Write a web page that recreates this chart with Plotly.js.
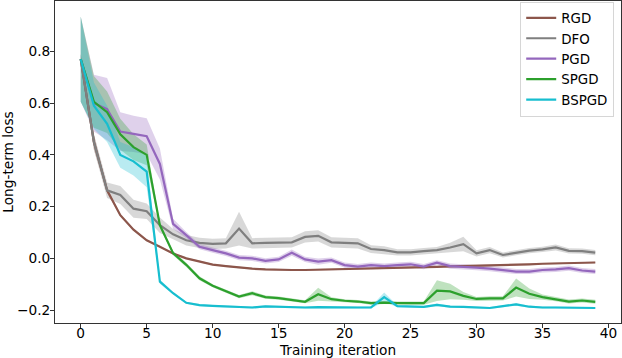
<!DOCTYPE html>
<html>
<head>
<meta charset="utf-8">
<script src="https://cdn.plot.ly/plotly-3.0.1.min.js"></script>
<style>html,body{margin:0;padding:0;background:#fff}#chart{width:622px;height:358px}</style>
</head>
<body>
<div id="chart"></div>
<script>
const iterations = Array.from({length: 40}, (_, i) => i);

const seriesNames = ["RGD", "DFO", "PGD", "SPGD", "BSPGD"];
const seriesColors = ["#8c564b", "#7f7f7f", "#9467bd", "#2ca02c", "#17becf"];
const bandColors = ["rgba(140,86,75,0.3)", "rgba(127,127,127,0.3)", "rgba(148,103,189,0.3)", "rgba(44,160,44,0.3)", "rgba(23,190,207,0.3)"];

const rgdMean = [0.77, 0.45, 0.263, 0.167, 0.111, 0.07, 0.045, 0.019, 0.0, -0.013,
  -0.024, -0.03, -0.036, -0.04, -0.043, -0.045, -0.045, -0.045, -0.044, -0.043,
  -0.042, -0.041, -0.039, -0.038, -0.037, -0.035, -0.034, -0.033, -0.031, -0.03,
  -0.028, -0.027, -0.026, -0.024, -0.023, -0.021, -0.02, -0.018, -0.017, -0.016];
const rgdStd = [0.02, 0.03, 0.01, 0.005, 0.004, 0.003, 0.003, 0.003, 0.003, 0.003,
  0.003, 0.003, 0.003, 0.003, 0.003, 0.003, 0.003, 0.003, 0.003, 0.003,
  0.003, 0.003, 0.003, 0.003, 0.003, 0.003, 0.003, 0.003, 0.003, 0.003,
  0.003, 0.003, 0.003, 0.003, 0.003, 0.003, 0.003, 0.003, 0.003, 0.003];

const dfoMean = [0.77, 0.45, 0.263, 0.245, 0.192, 0.182, 0.128, 0.093, 0.07, 0.06,
  0.056, 0.058, 0.115, 0.058, 0.06, 0.061, 0.062, 0.083, 0.087, 0.062,
  0.061, 0.058, 0.036, 0.032, 0.023, 0.023, 0.028, 0.032, 0.042, 0.055,
  0.019, 0.032, 0.013, 0.022, 0.03, 0.035, 0.042, 0.029, 0.028, 0.022];
const dfoStd = [0.02, 0.03, 0.03, 0.035, 0.035, 0.03, 0.03, 0.02, 0.02, 0.02,
  0.02, 0.02, 0.065, 0.02, 0.02, 0.02, 0.02, 0.022, 0.022, 0.02,
  0.02, 0.02, 0.015, 0.015, 0.012, 0.012, 0.012, 0.012, 0.018, 0.028,
  0.012, 0.012, 0.01, 0.01, 0.01, 0.01, 0.012, 0.01, 0.01, 0.01];

const pgdMean = [0.77, 0.60, 0.577, 0.49, 0.481, 0.472, 0.365, 0.133, 0.09, 0.045,
  0.032, 0.019, 0.003, 0.0, -0.01, -0.004, 0.022, -0.004, -0.013, -0.007,
  -0.026, -0.032, -0.026, -0.03, -0.026, -0.023, -0.032, -0.017, -0.03, -0.032,
  -0.036, -0.04, -0.045, -0.051, -0.051, -0.045, -0.043, -0.038, -0.047, -0.051];
const pgdStd = [0.165, 0.11, 0.12, 0.075, 0.07, 0.07, 0.06, 0.02, 0.012, 0.01,
  0.01, 0.01, 0.01, 0.01, 0.01, 0.01, 0.012, 0.01, 0.012, 0.01,
  0.01, 0.01, 0.01, 0.01, 0.01, 0.01, 0.01, 0.01, 0.01, 0.01,
  0.01, 0.01, 0.01, 0.01, 0.01, 0.01, 0.01, 0.01, 0.01, 0.01];

const spgdMean = [0.77, 0.605, 0.565, 0.48, 0.43, 0.40, 0.128, 0.02, -0.025, -0.077,
  -0.106, -0.128, -0.148, -0.135, -0.15, -0.154, -0.16, -0.168, -0.139, -0.158,
  -0.164, -0.167, -0.173, -0.171, -0.173, -0.173, -0.173, -0.125, -0.128, -0.145,
  -0.157, -0.155, -0.155, -0.113, -0.137, -0.15, -0.158, -0.167, -0.163, -0.168];
const spgdStd = [0.165, 0.1, 0.08, 0.06, 0.05, 0.04, 0.01, 0.008, 0.008, 0.008,
  0.006, 0.006, 0.006, 0.008, 0.006, 0.006, 0.006, 0.006, 0.025, 0.008,
  0.006, 0.006, 0.006, 0.006, 0.006, 0.006, 0.006, 0.04, 0.03, 0.015,
  0.008, 0.008, 0.008, 0.035, 0.02, 0.01, 0.008, 0.008, 0.008, 0.008];

const bspgdMean = [0.77, 0.59, 0.52, 0.40, 0.375, 0.335, -0.09, -0.135, -0.172, -0.181,
  -0.184, -0.186, -0.186, -0.19, -0.186, -0.188, -0.19, -0.19, -0.189, -0.19,
  -0.19, -0.19, -0.19, -0.15, -0.185, -0.187, -0.188, -0.18, -0.187, -0.188,
  -0.189, -0.192, -0.185, -0.178, -0.187, -0.19, -0.19, -0.19, -0.192, -0.192];
const bspgdStd = [0.165, 0.09, 0.07, 0.05, 0.055, 0.06, 0.008, 0.004, 0.004, 0.004,
  0.004, 0.004, 0.004, 0.004, 0.004, 0.004, 0.004, 0.004, 0.004, 0.004,
  0.004, 0.004, 0.004, 0.018, 0.004, 0.004, 0.004, 0.005, 0.004, 0.004,
  0.004, 0.004, 0.004, 0.005, 0.004, 0.004, 0.004, 0.004, 0.004, 0.004];

const means = [rgdMean, dfoMean, pgdMean, spgdMean, bspgdMean];
const stds = [rgdStd, dfoStd, pgdStd, spgdStd, bspgdStd];

const xTickVals = [0, 5, 10, 15, 20, 25, 30, 35, 40];
const yTickVals = [-0.2, 0.0, 0.2, 0.4, 0.6, 0.8];
const yTickText = ["\u22120.2", "0.0", "0.2", "0.4", "0.6", "0.8"];

const traces = [];
for (let s = 0; s < seriesNames.length; s++) {
  const lo = means[s].map((m, i) => m - stds[s][i]);
  const hi = means[s].map((m, i) => m + stds[s][i]);
  traces.push({x: iterations, y: lo, mode: "lines", line: {width: 0, color: bandColors[s]}, showlegend: false, hoverinfo: "skip"});
  traces.push({x: iterations, y: hi, mode: "lines", line: {width: 0, color: bandColors[s]}, fill: "tonexty", fillcolor: bandColors[s], showlegend: false, hoverinfo: "skip"});
}
for (let s = 0; s < seriesNames.length; s++) {
  traces.push({x: iterations, y: means[s], mode: "lines", name: seriesNames[s], line: {color: seriesColors[s], width: 2.2}});
}

const font = {family: "DejaVu Sans", size: 13.7, color: "#000"};
const legendFont = {family: "DejaVu Sans", size: 13.4, color: "#000"};
const layout = {
  width: 622, height: 358,
  margin: {l: 55, r: 1, t: 1, b: 35},
  paper_bgcolor: "#fff", plot_bgcolor: "#fff",
  font: font,
  showlegend: true,
  legend: {x: 0.988, y: 0.998, xanchor: "right", yanchor: "top", traceorder: "normal", bgcolor: "#fff", bordercolor: "#d6d6d6", borderwidth: 1, font: legendFont, tracegroupgap: 0},
  xaxis: {
    range: [-1.95, 40.95], tickvals: xTickVals, ticks: "outside", ticklen: 4, tickcolor: "#333", ticklabelstandoff: -6,
    showline: true, linecolor: "#333", linewidth: 1, mirror: true, showgrid: false, zeroline: false,
    title: {text: "Training iteration", font: font}, tickfont: font
  },
  yaxis: {
    range: [-0.25, 0.995], tickvals: yTickVals, ticktext: yTickText, ticks: "outside", ticklen: 4, tickcolor: "#333", ticklabelstandoff: -3,
    showline: true, linecolor: "#333", linewidth: 1, mirror: true, showgrid: false, zeroline: false,
    title: {text: "Long-term loss", font: font, standoff: 6}, tickfont: font
  }
};
Plotly.newPlot("chart", traces, layout, {displayModeBar: false, staticPlot: true});
</script>
</body>
</html>
